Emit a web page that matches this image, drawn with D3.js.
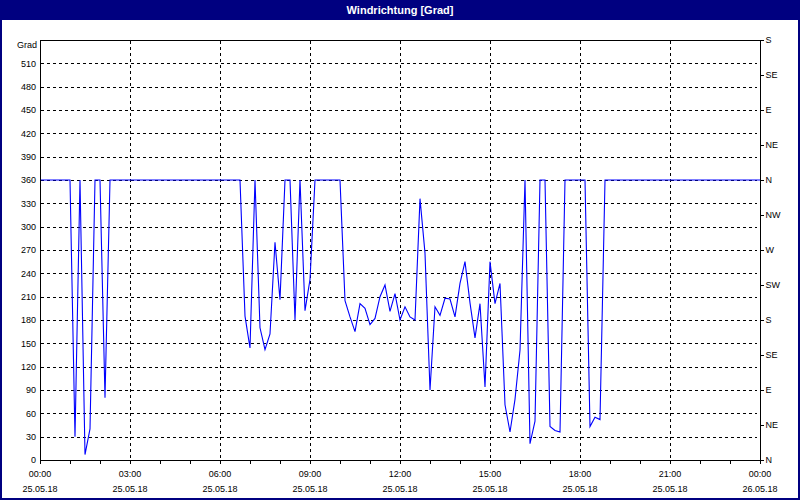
<!DOCTYPE html>
<html>
<head>
<meta charset="utf-8">
<script src="https://cdn.jsdelivr.net/npm/d3@7"></script>
<style>
  html, body { margin: 0; padding: 0; background: #ffffff; }
  svg { display: block; }
  text { font-family: "Liberation Sans", Arial, sans-serif; }
</style>
</head>
<body>
<svg id="chart" width="800" height="500"></svg>
<script>
// ---- data ----
const title = "Windrichtung [Grad]";
const yUnit = "Grad";
const startTime = new Date(2018, 4, 25, 0, 0);
const endTime = new Date(2018, 4, 26, 0, 0);
const stepMinutes = 10;
// wind direction in degrees, one value every 10 minutes from 25.05.18 00:00
const direction = [
  360, 360, 360, 360, 360, 360, 360, 30, 360, 7,
  40, 360, 360, 80, 360, 360, 360, 360, 360, 360,
  360, 360, 360, 360, 360, 360, 360, 360, 360, 360,
  360, 360, 360, 360, 360, 360, 360, 360, 360, 360,
  360, 185, 144, 360, 170, 142, 162, 280, 206, 360,
  360, 180, 360, 192, 232, 360, 360, 360, 360, 360,
  360, 205, 184, 165, 201, 195, 174, 182, 210, 225,
  191, 214, 180, 197, 184, 180, 336, 266, 90, 197,
  186, 208, 207, 184, 227, 255, 202, 157, 201, 94,
  255, 201, 227, 71, 36, 78, 141, 360, 21, 50,
  360, 360, 43, 38, 36, 360, 360, 360, 360, 360,
  43, 55, 52, 360, 360, 360, 360, 360, 360, 360,
  360, 360, 360, 360, 360, 360, 360, 360, 360, 360,
  360, 360, 360, 360, 360, 360, 360, 360, 360, 360,
  360, 360, 360, 360, 360
];
const yTicks = [0, 30, 60, 90, 120, 150, 180, 210, 240, 270, 300, 330, 360, 390, 420, 450, 480, 510];
const yMax = 540;
const compassValues = [0, 45, 90, 135, 180, 225, 270, 315, 360, 405, 450, 495, 540];
const compassLabels = ["N", "NE", "E", "SE", "S", "SW", "W", "NW", "N", "NE", "E", "SE", "S"];
const timeLabelHours = [0, 3, 6, 9, 12, 15, 18, 21, 24];

(function () {
// ---- layout ----
const W = 800, H = 500;
const pLeft = 40, pRight = 760, pTop = 40, pBottom = 460;

const svg = d3.select("#chart");

// frame and title bar
svg.append("rect").attr("x", 0).attr("y", 0).attr("width", W).attr("height", H).attr("fill", "#ffffff");
svg.append("rect").attr("x", 0).attr("y", 0).attr("width", W).attr("height", 20).attr("fill", "#000080");
svg.append("rect").attr("x", 1).attr("y", 1).attr("width", W - 2).attr("height", H - 2)
  .attr("fill", "none").attr("stroke", "#000080").attr("stroke-width", 2);
svg.append("text").attr("x", W / 2).attr("y", 14).attr("text-anchor", "middle")
  .attr("fill", "#ffffff").attr("font-size", "11px").attr("font-weight", "bold").text(title);

const x = d3.scaleTime().domain([startTime, endTime]).range([pLeft, pRight]);
const y = d3.scaleLinear().domain([0, yMax]).range([pBottom, pTop]);

const series = direction.map((v, i) => ({ t: d3.timeMinute.offset(startTime, i * stepMinutes), v }));

// grid
const grid = svg.append("g").attr("shape-rendering", "crispEdges");
grid.selectAll("line.h").data(yTicks.filter(d => d > 0)).join("line")
  .attr("x1", pLeft + 1).attr("x2", pRight - 3)
  .attr("y1", d => Math.round(y(d)) + 0.5).attr("y2", d => Math.round(y(d)) + 0.5)
  .attr("stroke", "#000").attr("stroke-dasharray", "3,3");
grid.selectAll("line.v").data(timeLabelHours.slice(1, -1)).join("line")
  .attr("x1", d => Math.round(x(d3.timeHour.offset(startTime, d))) + 0.5)
  .attr("x2", d => Math.round(x(d3.timeHour.offset(startTime, d))) + 0.5)
  .attr("y1", pTop + 1).attr("y2", pBottom - 1)
  .attr("stroke", "#000").attr("stroke-dasharray", "3,3");

// data line
const line = d3.line().x(d => x(d.t)).y(d => y(d.v));
svg.append("path").datum(series).attr("d", line)
  .attr("fill", "none").attr("stroke", "#0000ff").attr("stroke-width", 1.1)
  .attr("stroke-linejoin", "miter");

// plot border
svg.append("rect").attr("x", pLeft + 0.5).attr("y", pTop + 0.5)
  .attr("width", pRight - pLeft).attr("height", pBottom - pTop)
  .attr("fill", "none").attr("stroke", "#000").attr("shape-rendering", "crispEdges");

// left axis labels
const leftAxis = d3.axisLeft(y).tickValues(yTicks).tickSize(0).tickPadding(4);
const gl = svg.append("g").attr("transform", `translate(${pLeft},0)`).call(leftAxis);
gl.select(".domain").remove();
gl.selectAll("text").attr("font-size", "9px").attr("fill", "#000")
  .attr("font-family", "Liberation Sans, Arial, sans-serif");
svg.append("text").attr("x", pLeft - 3).attr("y", pTop + 8).attr("text-anchor", "end")
  .attr("font-size", "9px").attr("fill", "#000").text(yUnit);

// right compass axis
const rightAxis = d3.axisRight(y).tickValues(compassValues)
  .tickFormat((d, i) => compassLabels[i]).tickSize(3).tickPadding(2);
const gr = svg.append("g").attr("transform", `translate(${pRight + 0.5},0)`)
  .attr("shape-rendering", "crispEdges").call(rightAxis);
gr.select(".domain").remove();
gr.selectAll("text").attr("font-size", "9px").attr("fill", "#000")
  .attr("font-family", "Liberation Sans, Arial, sans-serif");

// bottom axis: hourly ticks, labels every 3 hours (time + date)
const bottomAxis = d3.axisBottom(x).ticks(d3.timeHour.every(1)).tickSize(3).tickFormat("");
const gb = svg.append("g").attr("transform", `translate(0,${pBottom + 0.5})`)
  .attr("shape-rendering", "crispEdges").call(bottomAxis);
gb.select(".domain").remove();
const fmtTime = d3.timeFormat("%H:%M");
const fmtDate = d3.timeFormat("%d.%m.%y");
const labelTimes = timeLabelHours.map(h => d3.timeHour.offset(startTime, h));
svg.append("g").selectAll("text.t").data(labelTimes).join("text")
  .attr("x", d => x(d)).attr("y", 477).attr("text-anchor", "middle")
  .attr("font-size", "9px").attr("fill", "#000").text(d => fmtTime(d));
svg.append("g").selectAll("text.d").data(labelTimes).join("text")
  .attr("x", d => x(d)).attr("y", 492).attr("text-anchor", "middle")
  .attr("font-size", "9px").attr("fill", "#000").text(d => fmtDate(d));
})();
</script>
</body>
</html>
